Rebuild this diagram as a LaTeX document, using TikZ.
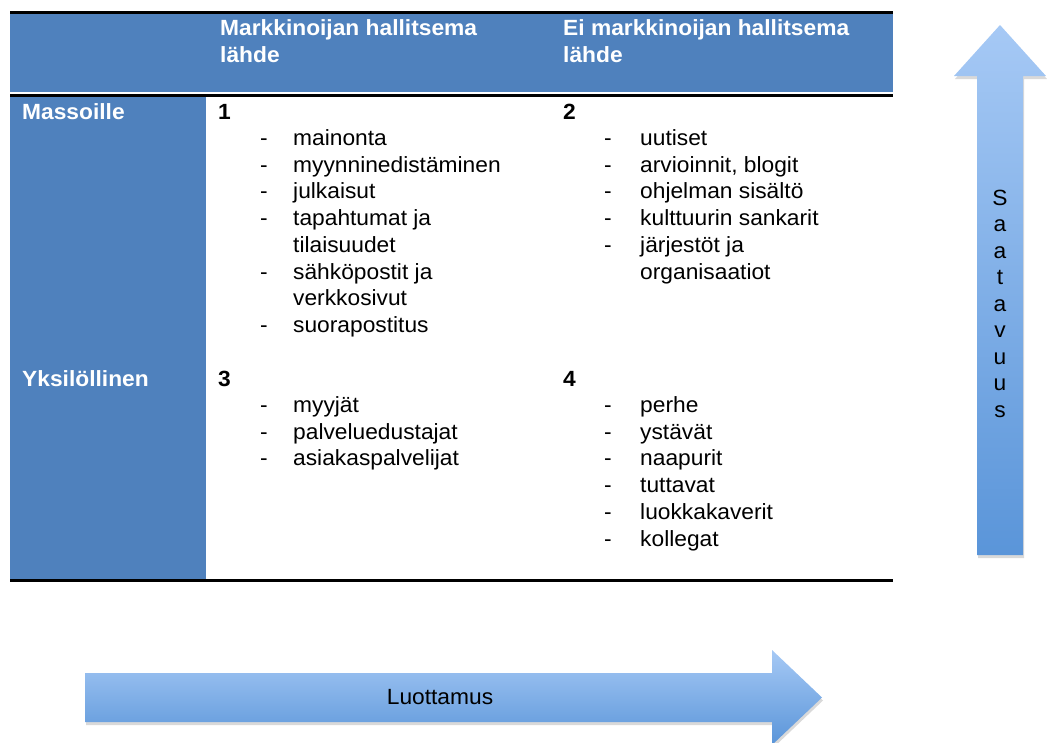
\documentclass[tikz,border=0pt]{standalone}
\usepackage{fontspec}
\setmainfont[FakeStretch=1.035]{Liberation Sans}
\usetikzlibrary{shadows}
\definecolor{hdrblue}{HTML}{4F81BD}
\definecolor{arrowlight}{HTML}{A6C9F5}
\definecolor{arrowdark}{HTML}{5A95D9}

\begin{document}
\begin{tikzpicture}[x=1pt,y=-1pt,
  rule/.style={line width=3pt, black},
  hdrtext/.style={anchor=base west, inner sep=0pt, text=white, align=left,
    font=\fontsize{22}{27}\selectfont\bfseries},
  numtext/.style={anchor=base west, inner sep=0pt,
    font=\fontsize{22}{27}\selectfont\bfseries},
  listtext/.style={anchor=base west, inner sep=0pt,
    font=\fontsize{22}{26.7}\selectfont},
  axistext/.style={inner sep=0pt, font=\fontsize{22}{26.5}\selectfont},
  bigarrow/.style={shade, top color=arrowlight, bottom color=arrowdark,
    drop shadow={opacity=0.3, shadow xshift=1pt, shadow yshift=-3pt}},
]
\useasboundingbox (0,0) rectangle (1047,742);

% table background: header band and first column
\fill[hdrblue] (10,13) rectangle (893,92);
\draw[white, line width=1pt] (10,92.5) -- (552,92.5);
\fill[hdrblue] (10,96.5) rectangle (206,578.5);

% horizontal rules
\draw[rule] (10,12) -- (893,12);
\draw[rule] (10,95) -- (893,95);
\draw[rule] (10,580) -- (893,580);

% column headers (multi-line nodes sit on the baseline of their last line)
\node[hdrtext] (h1) at (220,62) {Markkinoijan hallitsema\\lähde};
\node[hdrtext] (h2) at (563,62) {Ei markkinoijan hallitsema\\lähde};

% row headers
\node[hdrtext] (r1) at (22,119) {Massoille};
\node[hdrtext] (r2) at (22,386) {Yksilöllinen};

% cell 1
\node[numtext] (n1) at (218,119) {1};
\node[listtext] (c1) at (260,145.5) {\begin{tabular}[t]{@{}p{33pt}@{}l@{}}
- & mainonta\\
- & myynninedistäminen\\
- & julkaisut\\
- & tapahtumat ja\\
  & tilaisuudet\\
- & sähköpostit ja\\
  & verkkosivut\\
- & suorapostitus
\end{tabular}};

% cell 2
\node[numtext] (n2) at (563,119) {2};
\node[listtext] (c2) at (604,145.5) {\begin{tabular}[t]{@{}p{36pt}@{}l@{}}
- & uutiset\\
- & arvioinnit, blogit\\
- & ohjelman sisältö\\
- & kulttuurin sankarit\\
- & järjestöt ja\\
  & organisaatiot
\end{tabular}};

% cell 3
\node[numtext] (n3) at (218,386) {3};
\node[listtext] (c3) at (260,412.5) {\begin{tabular}[t]{@{}p{33pt}@{}l@{}}
- & myyjät\\
- & palveluedustajat\\
- & asiakaspalvelijat
\end{tabular}};

% cell 4
\node[numtext] (n4) at (563,386) {4};
\node[listtext] (c4) at (604,412.5) {\begin{tabular}[t]{@{}p{36pt}@{}l@{}}
- & perhe\\
- & ystävät\\
- & naapurit\\
- & tuttavat\\
- & luokkakaverit\\
- & kollegat
\end{tabular}};

% vertical axis arrow
\path[bigarrow] (977,555) -- (977,76) -- (954,76) -- (1000,25) -- (1046,76)
  -- (1023,76) -- (1023,555) -- cycle;
\node[axistext, align=center, anchor=base] (saat) at (1000,417)
  {S\\a\\a\\t\\a\\v\\u\\u\\s};

% horizontal axis arrow
\path[bigarrow] (85,673) -- (772,673) -- (772,650) -- (822,697.5) -- (772,745)
  -- (772,722) -- (85,722) -- cycle;
\node[axistext] (luot) at (440,697) {Luottamus};
\end{tikzpicture}
\end{document}
